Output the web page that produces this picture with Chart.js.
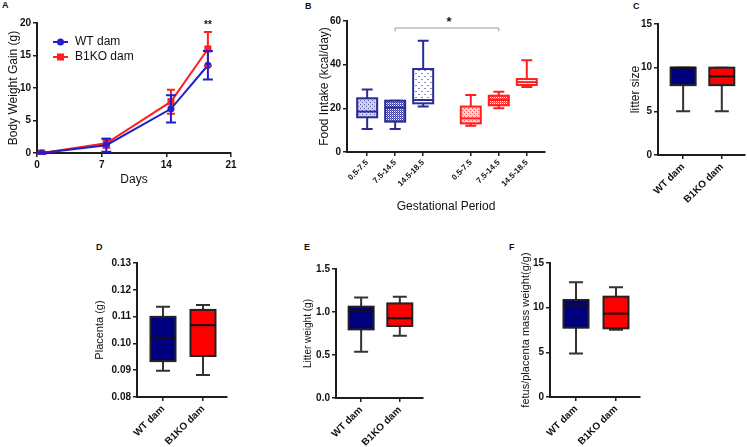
<!DOCTYPE html>
<html>
<head>
<meta charset="utf-8">
<script src="https://cdn.jsdelivr.net/npm/chart.js@4.4.0/dist/chart.umd.min.js"></script>
<style>
body { margin: 0; background: #fff; width: 747px; height: 447px; position: relative; overflow: hidden; }
canvas { position: absolute; }
.tag { position: absolute; font: bold 9px 'Liberation Sans', Arial, sans-serif; color: #111; line-height: 9px; }
</style>
</head>
<body>
<div class="tag" style="left:2px;top:1px">A</div>
<div class="tag" style="left:305px;top:2px">B</div>
<div class="tag" style="left:633px;top:2px">C</div>
<div class="tag" style="left:96px;top:243px">D</div>
<div class="tag" style="left:304px;top:243px">E</div>
<div class="tag" style="left:509px;top:243px">F</div>
<canvas id="cA"></canvas>
<canvas id="cB"></canvas>
<canvas id="cC"></canvas>
<canvas id="cD"></canvas>
<canvas id="cE"></canvas>
<canvas id="cF"></canvas>
<script>
// Data.

// A - body weight gain
const days = [0.5, 7.5, 14.5, 18.5];
const dayTicks = [0, 7, 14, 21];
const gainTicks = [0, 5, 10, 15, 20];
const gainWT = [0, 1.2, 6.8, 13.5];
const gainWTErr = [0.1, 1.0, 2.1, 2.2];
const gainKO = [0, 1.5, 7.9, 16.0];
const gainKOErr = [0.1, 0.7, 1.85, 2.6];

// B - food intake, [min, q1, median, q3, max]
const periods = ['0.5-7.5', '7.5-14.5', '14.5-18.5'];
const slotsWT = [1, 2, 3];
const slotsKO = [4.7, 5.7, 6.7];
const intakeTicks = [0, 20, 40, 60];
const intakeWT = [[10.5, 15.9, 18.5, 24.6, 28.6], [10.5, 13.9, 20.3, 23.5, 23.5], [20.8, 22.3, 23.8, 38, 51]];
const intakeKO = [[12, 13.1, 15.4, 20.8, 26.1], [20, 21.4, 23.8, 25.8, 27.6], [29.8, 30.7, 32, 33.4, 42]];

// C-F - dam groups, [min, q1, median, q3, max]
const dams = ['WT dam', 'B1KO dam'];
const litterSize = [[5, 8, 10, 10, 10], [5, 8, 9, 10, 10]];
const sizeTicks = [0, 5, 10, 15];
const placenta = [[0.0898, 0.0934, 0.1021, 0.1099, 0.1137], [0.0882, 0.0953, 0.1068, 0.1125, 0.1143]];
const placentaTicks = [0.08, 0.09, 0.10, 0.11, 0.12, 0.13];
const litterWeight = [[0.538, 0.798, 1.01, 1.062, 1.17], [0.724, 0.837, 0.927, 1.10, 1.178]];
const weightTicks = [0, 0.5, 1, 1.5];
const fetusRatio = [[4.88, 7.76, 10.23, 10.86, 12.84], [7.54, 7.69, 9.33, 11.23, 12.28]];
const ratioTicks = [0, 5, 10, 15];

// Styles.
Chart.defaults.font.family = "'Liberation Sans', Arial, sans-serif";
Chart.defaults.animation = false;
Chart.defaults.responsive = false;

const ink = '#1e1e1e';
const blue = '#1f1fcc';
const red = '#ff1f1f';
const navy = '#00007f';
const boxBlue = '#2b2b96';

// Size a canvas and work out axis sizes so the plot lands on the given rect.
function place(id, box, plot) {
    const c = document.getElementById(id);
    c.width = box[2];
    c.height = box[3];
    c.style.left = box[0] + 'px';
    c.style.top = box[1] + 'px';
    return {
        canvas: c,
        yWidth: plot[0] - box[0],
        xHeight: box[1] + box[3] - plot[3],
        padding: { left: 0, bottom: 0, top: plot[1] - box[1], right: box[0] + box[2] - plot[2] }
    };
}

function axis(opt) {
    return {
        type: 'linear',
        min: opt.min,
        max: opt.max,
        border: { display: true, color: ink, width: 2 },
        grid: { drawOnChartArea: false, drawTicks: true, tickLength: 4, color: ink, lineWidth: 1.5 },
        ticks: {
            color: '#111', padding: 2, autoSkip: false,
            maxRotation: opt.rotate || 0, minRotation: opt.rotate || 0,
            font: { size: opt.tickSize || 10, weight: 'bold' },
            callback: opt.format
        },
        title: opt.title
            ? { display: true, text: opt.title, color: '#111', font: { size: opt.titleSize || 12 }, padding: opt.titlePad }
            : { display: false },
        afterBuildTicks: s => { s.ticks = opt.ticks.map(v => ({ value: v })); },
        afterFit: s => {
            if (opt.width) s.width = opt.width;
            if (opt.height) s.height = opt.height;
        }
    };
}

// Pattern tiles for the food intake boxes.
function tile(kind, color) {
    const t = document.createElement('canvas');
    const n = kind === 'fine' ? 4 : kind === 'dense' ? 2 : 6;
    t.width = t.height = n;
    const g = t.getContext('2d');
    g.fillStyle = '#fff';
    g.fillRect(0, 0, n, n);
    g.fillStyle = color;
    if (kind === 'fine') {
        g.globalAlpha = 0.22; g.fillRect(0, 0, n, n);
        g.globalAlpha = 0.7; g.fillRect(0, 0, 1, 1); g.fillRect(2, 2, 1, 1);
    } else if (kind === 'dense') {
        g.globalAlpha = 0.9; g.fillRect(0, 0, 1, 1); g.fillRect(1, 1, 1, 1);
        g.globalAlpha = 0.6; g.fillRect(1, 0, 1, 1);
    } else {
        g.globalAlpha = 0.55; g.fillRect(1, 1, 2, 1); g.fillRect(4, 4, 2, 1);
    }
    return t;
}

function boxDrawer(items, st) {
    return {
        id: 'boxes',
        afterDatasetsDraw(chart) {
            const { ctx, scales: { x, y } } = chart;
            items.forEach(b => {
                const [lo, q1, med, q3, hi] = b.stats.map(v => y.getPixelForValue(v));
                const cx = x.getPixelForValue(b.at);
                const h = st.width / 2, c = st.cap / 2;
                ctx.save();
                ctx.lineWidth = st.line;
                ctx.strokeStyle = b.whisker;
                ctx.beginPath();
                ctx.moveTo(cx, hi); ctx.lineTo(cx, q3);
                ctx.moveTo(cx, q1); ctx.lineTo(cx, lo);
                ctx.moveTo(cx - c, hi); ctx.lineTo(cx + c, hi);
                ctx.moveTo(cx - c, lo); ctx.lineTo(cx + c, lo);
                ctx.stroke();
                ctx.fillStyle = b.pattern ? ctx.createPattern(tile(b.pattern, b.color), 'repeat') : b.color;
                ctx.fillRect(cx - h, q3, 2 * h, q1 - q3);
                ctx.strokeStyle = b.stroke;
                ctx.strokeRect(cx - h, q3, 2 * h, q1 - q3);
                ctx.strokeStyle = b.median;
                ctx.beginPath();
                ctx.moveTo(cx - h, med); ctx.lineTo(cx + h, med);
                ctx.stroke();
                ctx.restore();
            });
        }
    };
}

function boxPanel(id, box, plot, o) {
    const f = place(id, box, plot);
    return new Chart(f.canvas, {
        type: 'scatter',
        data: { datasets: [] },
        options: {
            layout: { padding: f.padding },
            plugins: { legend: { display: false }, tooltip: { enabled: false } },
            scales: {
                x: axis({
                    min: o.xMin, max: o.xMax, ticks: o.xAt, format: (v, i) => o.xLabels[i],
                    rotate: 45, tickSize: o.xTickSize, height: f.xHeight,
                    title: o.xTitle, titlePad: { top: 0, bottom: o.xTitlePad || 0 }
                }),
                y: axis({
                    min: o.yTicks[0], max: o.yTicks[o.yTicks.length - 1], ticks: o.yTicks,
                    format: o.yFormat, width: f.yWidth,
                    title: o.yTitle, titleSize: o.yTitleSize, titlePad: { top: o.yTitlePad }
                })
            }
        },
        plugins: [boxDrawer(o.items, o.style)].concat(o.extra || [])
    });
}

// A - line chart with error bars.

const errorBars = {
    id: 'errorBars',
    afterDatasetsDraw(chart) {
        const { ctx, scales: { x, y } } = chart;
        chart.data.datasets.slice().reverse().forEach(ds => {
            ctx.save();
            ctx.strokeStyle = ds.borderColor;
            ctx.lineWidth = 2;
            ds.data.forEach((p, i) => {
                const px = x.getPixelForValue(p.x);
                const top = y.getPixelForValue(p.y + ds.errors[i]);
                const bot = y.getPixelForValue(p.y - ds.errors[i]);
                ctx.beginPath();
                ctx.moveTo(px, top); ctx.lineTo(px, bot);
                ctx.moveTo(px - ds.cap / 2, top); ctx.lineTo(px + ds.cap / 2, top);
                ctx.moveTo(px - ds.cap / 2, bot); ctx.lineTo(px + ds.cap / 2, bot);
                ctx.stroke();
            });
            ctx.restore();
        });
    }
};

const insetLegend = {
    id: 'insetLegend',
    afterDraw(chart) {
        const { ctx, chartArea: a } = chart;
        chart.data.datasets.forEach((ds, i) => {
            const yy = a.top + 19 + i * 15;
            ctx.save();
            ctx.strokeStyle = ds.borderColor;
            ctx.lineWidth = 2;
            ctx.beginPath();
            ctx.moveTo(a.left + 16, yy); ctx.lineTo(a.left + 31, yy);
            ctx.stroke();
            ctx.fillStyle = ds.backgroundColor;
            Chart.helpers.drawPoint(ctx, { pointStyle: ds.pointStyle, radius: ds.pointRadius, rotation: 0, borderWidth: 0 }, a.left + 23.5, yy);
            ctx.fillStyle = '#111';
            ctx.font = "12px 'Liberation Sans', Arial, sans-serif";
            ctx.textBaseline = 'middle';
            ctx.fillText(ds.label, a.left + 38, yy);
            ctx.restore();
        });
    }
};

const stars = {
    id: 'stars',
    afterDraw(chart) {
        const { ctx, scales: { x, y } } = chart;
        ctx.save();
        ctx.fillStyle = '#111';
        ctx.font = "bold 10px 'Liberation Sans', Arial, sans-serif";
        ctx.textAlign = 'center';
        ctx.textBaseline = 'middle';
        ctx.fillText('**', x.getPixelForValue(days[3]), y.getPixelForValue(20) + 2);
        ctx.restore();
    }
};

const fa = place('cA', [0, 0, 250, 195], [37, 23, 231, 153]);
new Chart(fa.canvas, {
    type: 'line',
    data: {
        datasets: [
            {
                label: 'WT dam', data: days.map((d, i) => ({ x: d, y: gainWT[i] })), errors: gainWTErr, cap: 10,
                borderColor: blue, backgroundColor: blue, borderWidth: 2, pointStyle: 'circle', pointRadius: 3.5, pointBorderWidth: 0
            },
            {
                label: 'B1KO dam', data: days.map((d, i) => ({ x: d, y: gainKO[i] })), errors: gainKOErr, cap: 8,
                borderColor: red, backgroundColor: red, borderWidth: 2, pointStyle: 'rect', pointRadius: 5, pointBorderWidth: 0
            }
        ]
    },
    options: {
        layout: { padding: fa.padding },
        plugins: { legend: { display: false }, tooltip: { enabled: false } },
        scales: {
            x: axis({ min: 0, max: 21, ticks: dayTicks, format: v => v, height: fa.xHeight, title: 'Days', titlePad: { top: 0, bottom: 8 } }),
            y: axis({ min: 0, max: 20, ticks: gainTicks, format: v => v, width: fa.yWidth, title: 'Body Weight Gain (g)', titlePad: { top: 6 } })
        }
    },
    plugins: [errorBars, insetLegend, stars]
});

// B - food intake boxes.

const bracket = {
    id: 'bracket',
    afterDraw(chart) {
        const { ctx, scales: { x, y } } = chart;
        const xa = x.getPixelForValue(slotsWT[1]);
        const xb = x.getPixelForValue(slotsKO[1]);
        const yTop = y.getPixelForValue(56.8);
        const yEnd = y.getPixelForValue(55.2);
        ctx.save();
        ctx.strokeStyle = '#9a9a9a';
        ctx.lineWidth = 1;
        ctx.beginPath();
        ctx.moveTo(xa, yEnd); ctx.lineTo(xa, yTop); ctx.lineTo(xb, yTop); ctx.lineTo(xb, yEnd);
        ctx.stroke();
        ctx.fillStyle = '#111';
        ctx.font = "bold 13px 'Liberation Sans', Arial, sans-serif";
        ctx.textAlign = 'center';
        ctx.textBaseline = 'middle';
        ctx.fillText('*', (xa + xb) / 2 + 2, yTop - 6);
        ctx.restore();
    }
};

const kinds = ['fine', 'dense', 'sparse'];
boxPanel('cB', [300, 0, 250, 220], [347, 21, 545, 152], {
    xMin: 0.28, xMax: 7.35,
    xAt: slotsWT.concat(slotsKO), xLabels: periods.concat(periods), xTickSize: 8,
    xTitle: 'Gestational Period', xTitlePad: 6,
    yTicks: intakeTicks, yFormat: v => v, yTitle: 'Food Intake (kcal/day)', yTitlePad: 17,
    style: { width: 20, cap: 11, line: 2 },
    items: intakeWT.map((s, i) => ({ at: slotsWT[i], stats: s, pattern: kinds[i], color: boxBlue, stroke: boxBlue, whisker: boxBlue, median: boxBlue }))
        .concat(intakeKO.map((s, i) => ({ at: slotsKO[i], stats: s, pattern: kinds[i], color: red, stroke: red, whisker: red, median: red }))),
    extra: [bracket]
});

// C-F - dam comparison boxes.

function damItems(stats) {
    return stats.map((s, i) => ({
        at: i, stats: s, color: i ? '#ff0000' : navy,
        stroke: '#222', whisker: '#333', median: '#111'
    }));
}

const damStyle = { width: 25, cap: 14, line: 2 };

boxPanel('cC', [620, 0, 127, 205], [658, 24, 745, 155], {
    xMin: -0.65, xMax: 1.6, xAt: [0, 1], xLabels: dams,
    yTicks: sizeTicks, yFormat: v => v, yTitle: 'litter size', yTitlePad: 8,
    style: damStyle, items: damItems(litterSize)
});

boxPanel('cD', [90, 240, 150, 207], [137, 263, 227, 397], {
    xMin: -0.65, xMax: 1.6, xAt: [0, 1], xLabels: dams,
    yTicks: placentaTicks, yFormat: v => v.toFixed(2), yTitle: 'Placenta (g)', yTitleSize: 11, yTitlePad: 3.5,
    style: damStyle, items: damItems(placenta)
});

boxPanel('cE', [290, 240, 150, 207], [336, 269, 423, 398], {
    xMin: -0.65, xMax: 1.6, xAt: [0, 1], xLabels: dams,
    yTicks: weightTicks, yFormat: v => v.toFixed(1), yTitle: 'Litter weight (g)', yTitleSize: 10, yTitlePad: 12,
    style: damStyle, items: damItems(litterWeight)
});

boxPanel('cF', [500, 240, 160, 207], [550, 263, 640, 397], {
    xMin: -0.65, xMax: 1.6, xAt: [0, 1], xLabels: dams,
    yTicks: ratioTicks, yFormat: v => v, yTitle: 'fetus/placenta mass weight(g/g)', yTitleSize: 11, yTitlePad: 19,
    style: damStyle, items: damItems(fetusRatio)
});
</script>
</body>
</html>
